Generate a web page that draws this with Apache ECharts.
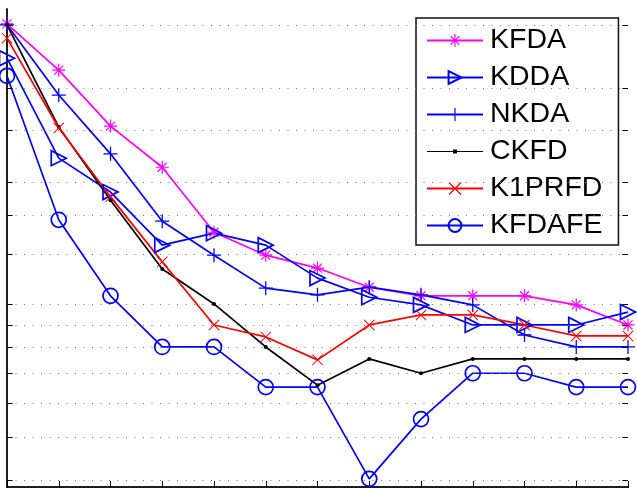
<!DOCTYPE html>
<html>
<head>
<meta charset="utf-8">
<script src="https://cdn.jsdelivr.net/npm/echarts@6/dist/echarts.min.js"></script>
<style>
  html, body { margin: 0; padding: 0; background: #fff; }
  #chart { width: 637px; height: 488px; }
</style>
</head>
<body>
<div id="chart"></div>
<script>
// x positions are 0..12, y on a 0..100 scale
const xSteps = [0, 1, 2, 3, 4, 5, 6, 7, 8, 9, 10, 11, 12];
const seriesNames = ['KFDA', 'KDDA', 'NKDA', 'CKFD', 'K1PRFD', 'KFDAFE'];
const kfda   = [96.9, 87.2, 75.5, 66.9, 53.3, 48.5, 45.8, 41.8, 40.0, 40.0, 40.0, 38.1, 33.9];
const kdda   = [89.7, 68.8, 61.7, 50.6, 53.1, 50.6, 43.7, 39.7, 38.1, 33.9, 33.9, 33.9, 36.6];
const nkda   = [96.7, 82.0, 69.7, 55.6, 48.5, 41.6, 40.2, 41.8, 40.2, 38.1, 31.8, 29.3, 29.3];
const ckfd   = [96.7, 75.3, 60.0, 45.6, 38.3, 29.3, 21.3, 26.8, 23.8, 26.8, 26.8, 26.8, 26.8];
const k1prfd = [93.9, 75.1, 60.7, 47.1, 33.9, 31.4, 26.6, 33.9, 36.0, 36.0, 33.9, 31.6, 31.6];
const kfdafe = [86.0, 55.9, 40.0, 29.3, 29.3, 20.9, 20.9, 1.7, 14.2, 23.8, 23.8, 20.9, 20.9];
// horizontal dotted grid lines (irregular ticks)
const gridLevels = [96.7, 83.5, 74.7, 63.8, 56.9, 48.7, 38.3, 33.9, 29.3, 23.8, 17.6, 10.5, 1.5];

const pair = arr => arr.map((v, i) => [xSteps[i], v]);

// marker shapes drawn as filled thin bars
const plusPath = 'path://M9.1,0H10.9V20H9.1Z M0,9.1H20V10.9H0Z';
const crossPath = 'path://M0,1.3L1.3,0L20,18.7L18.7,20Z M18.7,0L20,1.3L1.3,20L0,18.7Z';
const starPath = 'path://M9.1,0H10.9V20H9.1Z M0,9.1H20V10.9H0Z M2.4,3.7L3.7,2.4L17.6,16.3L16.3,17.6Z M16.3,2.4L17.6,3.7L3.7,17.6L2.4,16.3Z';
const dotLegend = 'path://M0,7.4H56V8.6H0Z M26,6H30V10H26Z';

const chart = echarts.init(document.getElementById('chart'));

function lineSeries(name, data, color, symbol, size, hollow, extra) {
  return Object.assign({
    name: name,
    type: 'line',
    data: pair(data),
    symbol: symbol,
    symbolSize: size,
    lineStyle: { color: color, width: 1.7 },
    itemStyle: hollow
      ? { color: 'transparent', borderColor: color, borderWidth: 1.7 }
      : { color: color, borderWidth: 0 },
    z: 3
  }, extra || {});
}

const tickLen = 0.11;
const gridMarks = gridLevels.map(v => ({ yAxis: v }));
const yTicks = [];
gridLevels.forEach(v => {
  yTicks.push([{ coord: [0, v] }, { coord: [tickLen, v] }]);
  yTicks.push([{ coord: [12 - tickLen, v] }, { coord: [12, v] }]);
});

const axisLineStyle = { color: '#111', width: 1.5 };

const option = {
  animation: false,
  grid: { left: 7, right: 9, top: 9, bottom: 1, containLabel: false },
  xAxis: [
    {
      type: 'value', min: 0, max: 12, interval: 1,
      axisLine: { show: true, lineStyle: axisLineStyle },
      axisTick: { show: true, inside: true, length: 6, lineStyle: { color: '#000' } },
      axisLabel: { show: false },
      splitLine: { show: false }
    },
    {
      type: 'value', min: 0, max: 12, interval: 1, position: 'top',
      axisLine: { show: true, lineStyle: axisLineStyle },
      axisTick: { show: true, inside: true, length: 6, lineStyle: { color: '#000' } },
      axisLabel: { show: false },
      splitLine: { show: false }
    }
  ],
  yAxis: [
    {
      type: 'value', min: 0, max: 100,
      axisLine: { show: true, lineStyle: axisLineStyle },
      axisTick: { show: false }, axisLabel: { show: false },
      splitLine: { show: false }
    },
    {
      type: 'value', min: 0, max: 100, position: 'right',
      axisLine: { show: true, lineStyle: axisLineStyle },
      axisTick: { show: false }, axisLabel: { show: false },
      splitLine: { show: false }
    }
  ],
  legend: {
    left: 416,
    top: 18,
    orient: 'vertical',
    backgroundColor: '#fff',
    borderColor: '#111',
    borderWidth: 1.5,
    borderRadius: 0,
    padding: [8, 16, 5, 10],
    itemWidth: 56,
    itemHeight: 16,
    itemGap: 8,
    textStyle: { fontFamily: 'Liberation Sans', fontSize: 28.5, color: '#000', padding: [0, 0, 0, 2] },
    data: [
      { name: 'KFDA' }, { name: 'KDDA' }, { name: 'NKDA' },
      { name: 'CKFD', icon: dotLegend },
      { name: 'K1PRFD' }, { name: 'KFDAFE' }
    ]
  },
  series: [
    {
      name: 'grid', type: 'line', data: [], silent: true, z: 1,
      markLine: {
        silent: true, symbol: 'none', animation: false,
        label: { show: false },
        lineStyle: { color: '#777', width: 1, type: [1, 7.5] },
        data: gridMarks
      }
    },
    {
      name: 'ticks', type: 'line', data: [], silent: true, z: 1,
      markLine: {
        silent: true, symbol: 'none', animation: false,
        label: { show: false },
        lineStyle: { color: '#000', width: 1, type: 'solid' },
        data: yTicks
      }
    },
    lineSeries(seriesNames[0], kfda, '#ff00ff', starPath, 13, false),
    lineSeries(seriesNames[1], kdda, '#0000ff', 'triangle', 15, true, { symbolRotate: -90 }),
    lineSeries(seriesNames[2], nkda, '#0000ff', plusPath, 14, false),
    lineSeries(seriesNames[3], ckfd, '#000000', 'circle', 4, false),
    lineSeries(seriesNames[4], k1prfd, '#ff0000', crossPath, 11, false),
    lineSeries(seriesNames[5], kfdafe, '#0000ff', 'circle', 15, true)
  ]
};

chart.setOption(option);
</script>
</body>
</html>
